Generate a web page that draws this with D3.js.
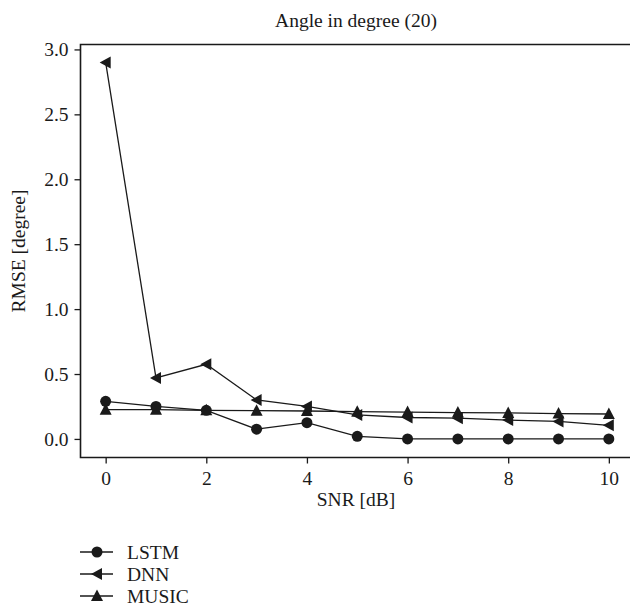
<!DOCTYPE html>
<html>
<head>
<meta charset="utf-8">
<script src="https://cdn.jsdelivr.net/npm/d3@7"></script>
<style>
  html, body { margin: 0; padding: 0; background: #fff; }
  svg { display: block; font-family: "Liberation Serif", "DejaVu Serif", serif; }
</style>
</head>
<body>
<svg id="chart" width="630" height="616"></svg>
<script>
// SNR sweep and RMSE per estimator
const snr = [0, 1, 2, 3, 4, 5, 6, 7, 8, 9, 10];
const lstm = [0.29, 0.25, 0.22, 0.075, 0.125, 0.02, 0.0, 0.0, 0.0, 0.0, 0.0];
const dnn = [2.90, 0.47, 0.575, 0.30, 0.25, 0.185, 0.165, 0.16, 0.145, 0.135, 0.105];
const music = [0.225, 0.225, 0.22, 0.218, 0.215, 0.21, 0.207, 0.203, 0.20, 0.195, 0.192];
const seriesNames = ["LSTM", "DNN", "MUSIC"];
const xTicks = [0, 2, 4, 6, 8, 10];
const yTicks = [0, 0.5, 1.0, 1.5, 2.0, 2.5, 3.0];

(function () {
  const svg = d3.select("#chart");
  const ink = "#1a1a1a";
  const fontSize = "19.5px";
  const plotLeft = 80.5, plotTop = 44.5, plotBottom = 457.5, plotRight = 634;

  const x = d3.scaleLinear().domain([-0.5, 10.5]).range([plotLeft, plotRight]);
  const y = d3.scaleLinear().domain([-0.143, 3.038]).range([plotBottom, plotTop]);

  // frame: left, top and bottom edges
  svg.append("path")
    .attr("d", `M${plotRight},${plotTop}H${plotLeft}V${plotBottom}H${plotRight}`)
    .attr("fill", "none").attr("stroke", ink).attr("stroke-width", 1.6);

  const yAxis = svg.append("g")
    .attr("transform", `translate(${plotLeft},0)`)
    .call(d3.axisLeft(y).tickValues(yTicks).tickFormat(d3.format(".1f")).tickSize(6).tickPadding(6));
  const xAxis = svg.append("g")
    .attr("transform", `translate(0,${plotBottom})`)
    .call(d3.axisBottom(x).tickValues(xTicks).tickFormat(d3.format("d")).tickSize(6).tickPadding(8));
  [xAxis, yAxis].forEach(g => {
    g.select(".domain").remove();
    g.selectAll("line").attr("stroke", ink).attr("stroke-width", 1.3);
    g.selectAll("text").attr("fill", ink).style("font-size", fontSize)
      .style("font-family", "'Liberation Serif', 'DejaVu Serif', serif");
  });

  // titles
  svg.append("text").attr("x", 356).attr("y", 27).attr("text-anchor", "middle")
    .attr("fill", ink).style("font-size", fontSize).text("Angle in degree (20)");
  svg.append("text").attr("x", 356).attr("y", 506).attr("text-anchor", "middle")
    .attr("fill", ink).style("font-size", fontSize).text("SNR [dB]");
  svg.append("text").attr("transform", "translate(25,251) rotate(-90)").attr("text-anchor", "middle")
    .attr("fill", ink).style("font-size", fontSize).text("RMSE [degree]");

  // marker shapes
  const markers = {
    LSTM: () => d3.symbol(d3.symbolCircle, 95)(),
    DNN: () => "M-6,0L5,-6L5,6Z",
    MUSIC: () => "M0,-6.5L6,5L-6,5Z"
  };

  const data = { LSTM: lstm, DNN: dnn, MUSIC: music };
  const line = d3.line().x((d, i) => x(snr[i])).y(d => y(d));

  // draw MUSIC first so the others sit on top
  ["MUSIC", "DNN", "LSTM"].forEach(name => {
    const vals = data[name];
    svg.append("path").datum(vals).attr("d", line)
      .attr("fill", "none").attr("stroke", ink).attr("stroke-width", 1.3);
    svg.append("g").selectAll("path").data(vals).join("path")
      .attr("transform", (d, i) => `translate(${x(snr[i])},${y(d)})`)
      .attr("d", markers[name]).attr("fill", ink);
  });

  // legend
  const legend = svg.append("g").attr("transform", "translate(80,552)");
  seriesNames.forEach((name, i) => {
    const g = legend.append("g").attr("transform", `translate(0,${i * 22})`);
    g.append("line").attr("x1", 0).attr("x2", 33).attr("y1", 0).attr("y2", 0)
      .attr("stroke", ink).attr("stroke-width", 1.3);
    g.append("path").attr("transform", "translate(17,0)").attr("d", markers[name]).attr("fill", ink);
    g.append("text").attr("x", 47).attr("y", 6.5).attr("fill", ink)
      .style("font-size", fontSize).text(name);
  });
})();
</script>
</body>
</html>
